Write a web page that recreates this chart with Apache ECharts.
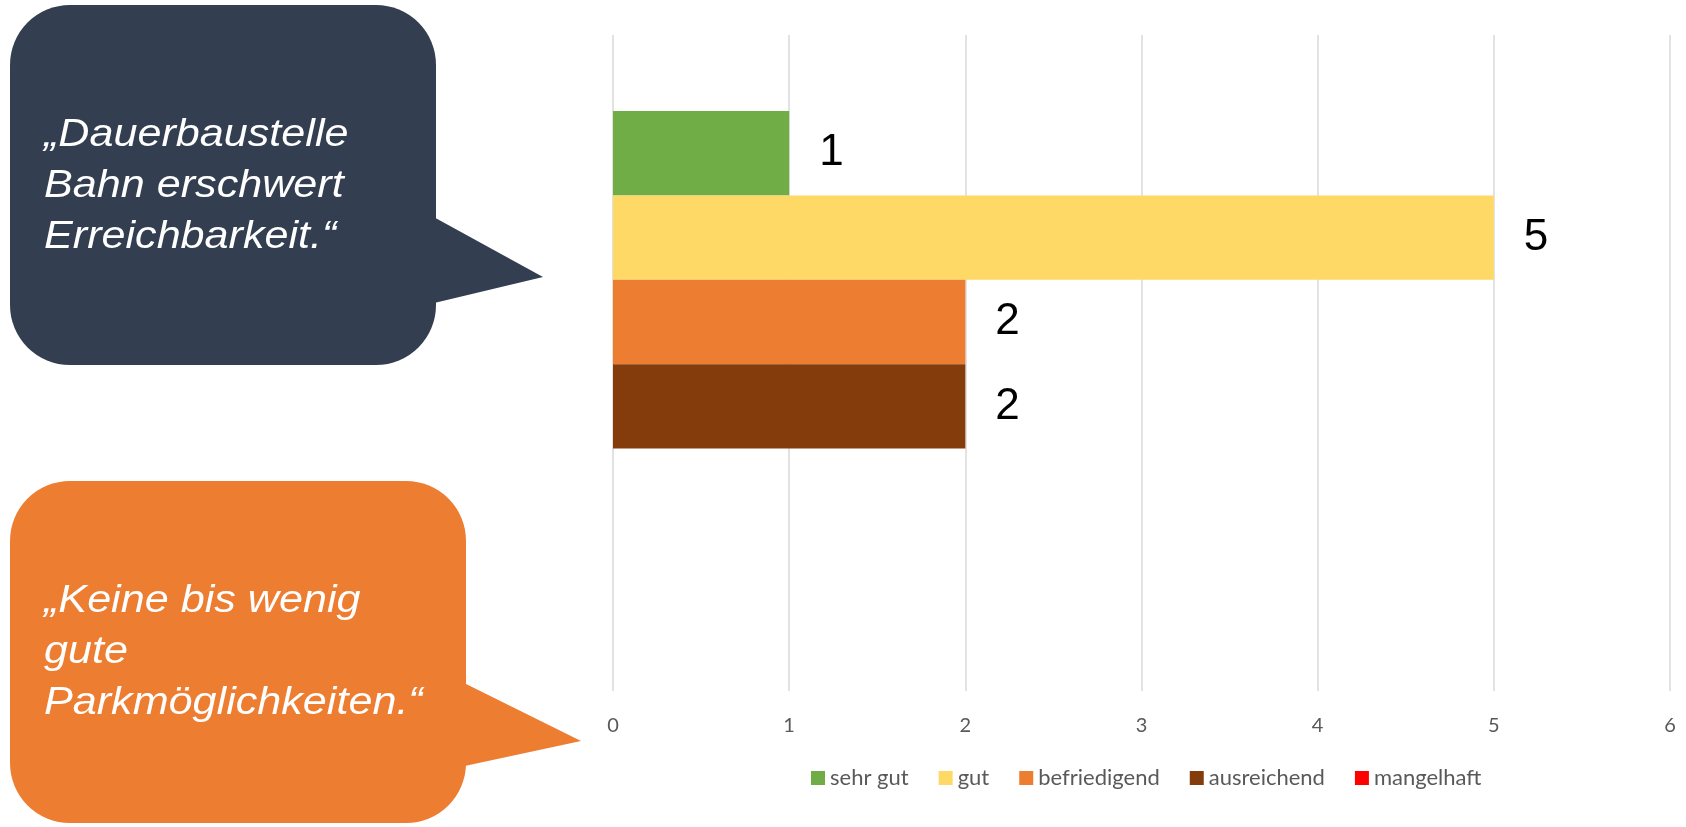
<!DOCTYPE html>
<html>
<head>
<meta charset="utf-8">
<script src="https://cdn.jsdelivr.net/npm/echarts@6/dist/echarts.min.js"></script>
<style>
    html, body { margin: 0; padding: 0; background: #fff; }
    #main { width: 1686px; height: 827px; }
</style>
</head>
<body>
<div id="main"></div>
<script>
// data
const categories = ["Bewertung"];
const seriesNames = ["sehr gut", "gut", "befriedigend", "ausreichend", "mangelhaft"];
const seriesValues = [[1], [5], [2], [2], [null]];
const seriesColors = ["#70AD47", "#FFD966", "#ED7D31", "#843C0C", "#FF0000"];
const xTicks = [0, 1, 2, 3, 4, 5, 6];
const quoteTop = ["„Dauerbaustelle", "Bahn erschwert", "Erreichbarkeit.“"];
const quoteBottom = ["„Keine bis wenig", "gute", "Parkmöglichkeiten.“"];

const tickFont = "Lato";
const quoteFont = '"Liberation Sans", Arial, sans-serif';

const callout = (box, pointer, color, lines, textY) => {
    return {
        type: "group",
        children: [
            {
                type: "rect",
                shape: { x: box[0], y: box[1], width: box[2], height: box[3], r: 60 },
                style: { fill: color }
            },
            {
                type: "polygon",
                shape: { points: pointer },
                style: { fill: color }
            },
            {
                type: "text",
                x: 44,
                y: textY,
                scaleX: 1.135,
                style: {
                    text: lines.join("\n"),
                    fill: "#fff",
                    font: "italic 38px " + quoteFont,
                    lineHeight: 51,
                    verticalAlign: "middle",
                    align: "left"
                }
            }
        ]
    };
};

const getOption = () => {
    let series = [];
    for (let i = 0; i < seriesNames.length; i++) {
        series.push({
            name: seriesNames[i],
            type: "bar",
            xAxisIndex: 1,
            yAxisIndex: 1,
            data: seriesValues[i],
            itemStyle: { color: seriesColors[i] },
            barGap: "0%",
            barCategoryGap: "0%",
            label: {
                show: true,
                position: "right",
                distance: 30,
                color: "#000",
                fontFamily: quoteFont,
                fontSize: 44
            }
        });
    }

    return {
        animation: false,
        backgroundColor: "#fff",
        grid: [
            // grid for gridlines + tick labels
            { left: 613, right: 16, top: 35, bottom: 136 },
            // grid holding the bars
            { left: 613, right: 16, top: 111, height: 422 }
        ],
        legend: {
            data: seriesNames,
            top: 762,
            left: 806,
            itemWidth: 14,
            itemHeight: 14,
            itemGap: 30,
            icon: "rect",
            textStyle: { color: "#595959", fontFamily: tickFont, fontSize: 22 }
        },
        xAxis: [
            {
                gridIndex: 0,
                type: "value",
                min: xTicks[0],
                max: xTicks[xTicks.length - 1],
                interval: 1,
                axisLine: { show: false },
                axisTick: { show: false },
                axisLabel: { color: "#595959", fontFamily: tickFont, fontSize: 20, margin: 25 },
                splitLine: { lineStyle: { color: "#D9D9D9", width: 1.5 } }
            },
            {
                gridIndex: 1,
                type: "value",
                min: xTicks[0],
                max: xTicks[xTicks.length - 1],
                show: false
            }
        ],
        yAxis: [
            {
                gridIndex: 0,
                type: "category",
                data: categories,
                show: false
            },
            {
                gridIndex: 1,
                type: "category",
                data: categories,
                inverse: true,
                show: false
            }
        ],
        graphic: [
            callout([10, 5, 426, 360], [[430, 215], [543, 277], [430, 304]], "#333F50", quoteTop, 186),
            callout([10, 481, 456, 342], [[460, 681], [581, 741], [460, 767]], "#ED7D31", quoteBottom, 652)
        ],
        series: series
    };
};

let chart = echarts.init(document.getElementById("main"));
chart.setOption(getOption());
</script>
</body>
</html>
